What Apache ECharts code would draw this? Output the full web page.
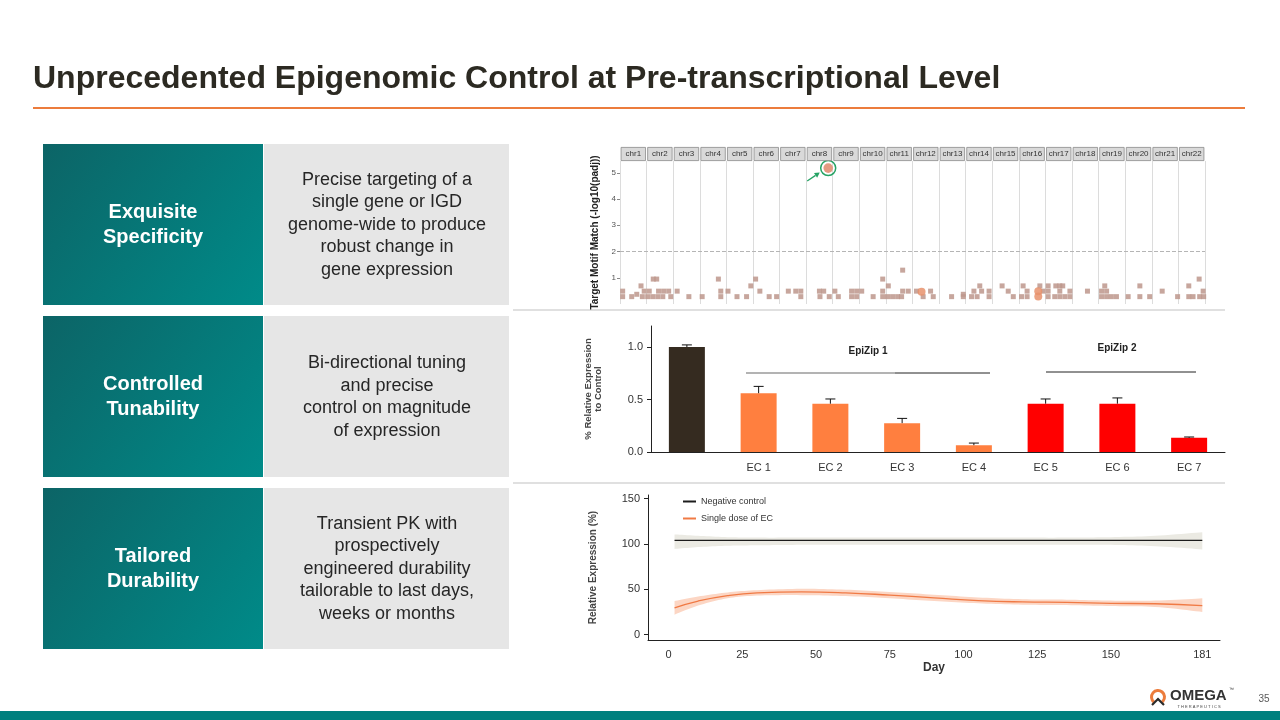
<!DOCTYPE html>
<html><head><meta charset="utf-8">
<script src="https://cdn.jsdelivr.net/npm/echarts@6/dist/echarts.min.js"></script>
<style>html,body{margin:0;padding:0;background:#fff}#c{width:1280px;height:720px}</style>
</head><body><div id="c"></div><script>
// ---------------- data ----------------
const slideTitle = 'Unprecedented Epigenomic Control at Pre-transcriptional Level';
const panelHeadings = ['Exquisite\nSpecificity', 'Controlled\nTunability', 'Tailored\nDurability'];
const panelTexts = [
  'Precise targeting of a\nsingle gene or IGD\ngenome-wide to produce\nrobust change in\ngene expression',
  'Bi-directional tuning\nand precise\ncontrol on magnitude\nof expression',
  'Transient PK with\nprospectively\nengineered durability\ntailorable to last days,\nweeks or months'
];
const chromosomes = ['chr1','chr2','chr3','chr4','chr5','chr6','chr7','chr8','chr9','chr10','chr11',
  'chr12','chr13','chr14','chr15','chr16','chr17','chr18','chr19','chr20','chr21','chr22'];
// [chromosome number, relative position within chromosome, -log10(padj)]
const motifPoints = [
  [1,.10,.28],[1,.44,.28],[1,.84,.28],[1,.10,.49],[1,.91,.49],[1,.79,.69],[1,.63,.37],
  [2,.04,.28],[2,.23,.28],[2,.42,.28],[2,.61,.28],[2,.91,.28],[2,.10,.49],[2,.45,.49],[2,.64,.49],[2,.83,.49],[2,.25,.95],[2,.38,.95],
  [3,.15,.49],[3,.59,.28],
  [4,.09,.28],[4,.79,.28],[4,.79,.49],[4,.70,.95],
  [5,.06,.49],[5,.40,.28],[5,.76,.28],[5,.92,.69],
  [6,.10,.95],[6,.26,.49],[6,.61,.28],[6,.89,.28],
  [7,.33,.49],[7,.61,.49],[7,.80,.49],[7,.80,.28],
  [8,.50,.49],[8,.66,.49],[8,.52,.28],[8,.87,.28],
  [9,.08,.49],[9,.21,.28],[9,.71,.28],[9,.90,.28],[9,.71,.49],[9,.90,.49],
  [10,.09,.49],[10,.52,.28],[10,.88,.28],[10,.88,.49],[10,.88,.95],
  [11,.09,.69],[11,.06,.28],[11,.25,.28],[11,.44,.28],[11,.59,.28],[11,.63,.49],[11,.84,.49],[11,.63,1.29],
  [12,.15,.49],[12,.40,.28],[12,.68,.49],[12,.78,.28],
  [13,.47,.28],[13,.91,.28],[13,.91,.37],
  [14,.22,.28],[14,.31,.49],[14,.43,.28],[14,.53,.69],[14,.60,.49],[14,.88,.49],[14,.88,.28],
  [15,.37,.69],[15,.60,.49],[15,.79,.28],
  [16,.10,.28],[16,.16,.69],[16,.31,.49],[16,.31,.28],[16,.79,.69],[16,.91,.49],
  [17,.10,.69],[17,.10,.49],[17,.10,.28],[17,.39,.69],[17,.54,.69],[17,.65,.69],[17,.54,.49],[17,.92,.49],
  [17,.35,.28],[17,.54,.28],[17,.73,.28],[17,.92,.28],
  [18,.58,.49],
  [19,.23,.69],[19,.11,.49],[19,.30,.49],[19,.11,.28],[19,.30,.28],[19,.48,.28],[19,.67,.28],
  [20,.11,.28],[20,.55,.69],[20,.55,.28],[20,.92,.28],
  [21,.39,.49],[21,.97,.28],
  [22,.78,.95],[22,.39,.69],[22,.93,.49],[22,.39,.28],[22,.55,.28],[22,.80,.28],[22,.95,.28]
];
const motifCircles = [[12,.34,.47],[16,.73,.49],[16,.73,.29]];
const targetHit = [8, .83, 5.18];
const significanceThreshold = 2;
const motifTicks = [1,2,3,4,5];

const barCategories = ['', 'EC 1', 'EC 2', 'EC 3', 'EC 4', 'EC 5', 'EC 6', 'EC 7'];
const barGroups = ['Control','EpiZip 1','EpiZip 1','EpiZip 1','EpiZip 1','EpiZip 2','EpiZip 2','EpiZip 2'];
const barValues = [1.00, 0.56, 0.46, 0.275, 0.065, 0.46, 0.46, 0.135];
const barErrors = [0.02, 0.065, 0.045, 0.045, 0.02, 0.045, 0.055, 0.008];
const barTicks = [0, 0.5, 1.0];

const days = [2, 10, 20, 30, 45, 60, 75, 90, 105, 120, 135, 150, 165, 181];
const ncMean  = [104, 104, 104, 104, 104, 104, 104, 104, 104, 104, 104, 104, 104, 104];
const ncLower = [94.5, 96.5, 98, 98.5, 99, 99, 99, 99, 99, 99, 99, 99, 97.5, 94];
const ncUpper = [110.5, 109, 107.5, 107, 107, 107, 107, 107, 107, 107, 107, 107.5, 109, 113];
const ecMean  = [29.5, 37, 43, 46, 47, 46, 43.5, 40.5, 37.5, 36, 35.5, 34.5, 34, 32];
const ecLower = [22, 32, 40, 43, 43.5, 42.5, 40, 37, 34.5, 33, 32.5, 31.5, 30.5, 25];
const ecUpper = [37, 42, 46.5, 49, 50.5, 49.5, 47, 44, 41, 39, 38.5, 37.5, 37.5, 40];
const dayTicks = [0, 25, 50, 75, 100, 125, 150, 181];
const expressionTicks = [0, 50, 100, 150];

// ---------------- styles ----------------
const FONT = '"Liberation Sans", Arial, sans-serif';
const groupColors = {'Control': '#352b20', 'EpiZip 1': '#ff7f3f', 'EpiZip 2': '#ff0000'};
const TEAL_GRAD = () => new echarts.graphic.LinearGradient(0, 0, 1, 1, [
  {offset: 0, color: '#0c6466'}, {offset: 1, color: '#008b89'}]);

const chart = echarts.init(document.getElementById('c'), null, {width: 1280, height: 720});

// ---------------- slide decoration ----------------
const graphics = [];
graphics.push({type: 'text', x: 33, y: 79, style: {text: slideTitle, font: 'bold 32px ' + FONT, fill: '#2c2a22', align: 'left', verticalAlign: 'middle'}});
graphics.push({type: 'rect', shape: {x: 33, y: 107, width: 1212, height: 2}, style: {fill: '#ec7c3c'}});
const rowTops = [144, 316, 488];
rowTops.forEach((t, i) => {
  graphics.push({type: 'rect', shape: {x: 43, y: t, width: 220, height: 161}, style: {fill: TEAL_GRAD()}});
  graphics.push({type: 'rect', shape: {x: 264, y: t, width: 245, height: 161}, style: {fill: '#e6e6e6'}});
  graphics.push({type: 'text', x: 153, y: t + 81, style: {text: panelHeadings[i], font: 'bold 20px ' + FONT, fill: '#ffffff', align: 'center', verticalAlign: 'middle', lineHeight: 25}});
  graphics.push({type: 'text', x: 387, y: t + 81, style: {text: panelTexts[i], font: '18px ' + FONT, fill: '#262626', align: 'center', verticalAlign: 'middle', lineHeight: 22.5}});
});
graphics.push({type: 'line', shape: {x1: 513, y1: 310, x2: 1225, y2: 310}, style: {stroke: '#d6d6d6', lineWidth: 1.5}});
graphics.push({type: 'line', shape: {x1: 513, y1: 483, x2: 1225, y2: 483}, style: {stroke: '#d6d6d6', lineWidth: 1.5}});
// EpiZip annotations
graphics.push({type: 'line', shape: {x1: 746, y1: 373, x2: 895, y2: 373}, style: {stroke: '#9a9a9a', lineWidth: 1.5}});
graphics.push({type: 'line', shape: {x1: 895, y1: 373, x2: 990, y2: 373}, style: {stroke: '#222', lineWidth: 1}});
graphics.push({type: 'text', x: 868, y: 351, style: {text: 'EpiZip 1', font: 'bold 10px ' + FONT, fill: '#222', align: 'center', verticalAlign: 'middle'}});
graphics.push({type: 'line', shape: {x1: 1046, y1: 372, x2: 1196, y2: 372}, style: {stroke: '#222', lineWidth: 1}});
graphics.push({type: 'text', x: 1117, y: 348, style: {text: 'EpiZip 2', font: 'bold 10px ' + FONT, fill: '#222', align: 'center', verticalAlign: 'middle'}});
// footer
graphics.push({type: 'rect', shape: {x: 0, y: 711, width: 1280, height: 9}, style: {fill: '#00807e'}});
graphics.push({type: 'arc', shape: {cx: 1158, cy: 697, r: 6.5, startAngle: Math.PI * 0.72, endAngle: Math.PI * 2.28, clockwise: true}, style: {stroke: '#ec7c3c', lineWidth: 3, fill: null}});
graphics.push({type: 'polyline', shape: {points: [[1152, 705], [1158, 699], [1164, 705]]}, style: {stroke: '#2b2b2b', lineWidth: 2.2, fill: null}});
graphics.push({type: 'text', x: 1170, y: 696, style: {text: 'OMEGA', font: 'bold 15px ' + FONT, fill: '#333333', align: 'left', verticalAlign: 'middle'}});
graphics.push({type: 'text', x: 1229, y: 690, style: {text: '™', font: '5px ' + FONT, fill: '#333', align: 'left', verticalAlign: 'middle'}});
graphics.push({type: 'text', x: 1199, y: 706.5, style: {text: 'T H E R A P E U T I C S', font: '4px ' + FONT, fill: '#444', align: 'center', verticalAlign: 'middle'}});
graphics.push({type: 'text', x: 1264, y: 699, style: {text: '35', font: '10px ' + FONT, fill: '#595959', align: 'center', verticalAlign: 'middle'}});

// Catmull-Rom smoothing of pixel points (rendering only)
function smoothPixels(pts, steps) {
  const out = [];
  for (let i = 0; i < pts.length - 1; i++) {
    const p0 = pts[Math.max(i - 1, 0)], p1 = pts[i], p2 = pts[i + 1], p3 = pts[Math.min(i + 2, pts.length - 1)];
    for (let s = 0; s < steps; s++) {
      const t = s / steps, t2 = t * t, t3 = t2 * t;
      out.push([0, 1].map(k => 0.5 * ((2 * p1[k]) + (-p0[k] + p2[k]) * t +
        (2 * p0[k] - 5 * p1[k] + 4 * p2[k] - p3[k]) * t2 + (-p0[k] + 3 * p1[k] - 3 * p2[k] + p3[k]) * t3)));
    }
  }
  out.push(pts[pts.length - 1]);
  return out;
}
// confidence band drawn through the axis scale (one polygon per band)
function bandSeries(lower, upper, color) {
  return {
    type: 'custom', xAxisIndex: 3, yAxisIndex: 3, silent: true, z: 2,
    data: days.map((d, i) => [d, lower[i], upper[i]]),
    encode: {x: 0, y: [1, 2]},
    renderItem: (params, api) => {
      if (params.dataIndex !== 0) return null;
      const top = smoothPixels(days.map((d, i) => api.coord([d, upper[i]])), 10);
      const bot = smoothPixels(days.map((d, i) => api.coord([d, lower[i]])), 10).reverse();
      return {type: 'polygon', shape: {points: top.concat(bot)}, style: {fill: color}};
    }
  };
}

// ---------------- chart option ----------------
const axisText = {fontFamily: FONT, color: '#333', fontSize: 11};
const option = {
  animation: false,
  backgroundColor: '#ffffff',
  textStyle: {fontFamily: FONT},
  grid: [
    {left: 620, top: 147, width: 585, height: 14, outerBoundsMode: 'none'},
    {left: 620, top: 161, width: 585, height: 143, outerBoundsMode: 'none'},
    {left: 651, top: 326, width: 574, height: 126, outerBoundsMode: 'none'},
    {left: 648, top: 495, width: 572, height: 145, outerBoundsMode: 'none'}
  ],
  legend: {
    data: ['Negative control', 'Single dose of EC'],
    orient: 'vertical', left: 678, top: 492, itemWidth: 13, itemHeight: 2, itemGap: 8,
    icon: 'rect', textStyle: {fontSize: 9, color: '#333', fontFamily: FONT}, selectedMode: false
  },
  xAxis: [
    {gridIndex: 0, type: 'category', data: chromosomes, show: false},
    {gridIndex: 1, type: 'value', min: 0, max: 22, interval: 1,
      axisLine: {show: false}, axisTick: {show: false}, axisLabel: {show: false},
      splitLine: {show: true, lineStyle: {color: '#dcdcdc', width: 1}}},
    {gridIndex: 2, type: 'category', data: barCategories,
      axisLine: {onZero: false, lineStyle: {color: '#222', width: 1}}, axisTick: {show: false},
      axisLabel: Object.assign({margin: 10}, axisText)},
    {gridIndex: 3, type: 'value', min: -7, max: 187,
      name: 'Day', nameLocation: 'middle', nameGap: 22,
      nameTextStyle: {fontWeight: 'bold', fontSize: 12, color: '#333', fontFamily: FONT},
      axisLine: {onZero: false, lineStyle: {color: '#222', width: 1}}, axisTick: {show: false},
      axisLabel: Object.assign({customValues: dayTicks, margin: 9}, axisText),
      splitLine: {show: false}}
  ],
  yAxis: [
    {gridIndex: 0, type: 'value', min: 0, max: 1, show: false},
    {gridIndex: 1, type: 'value', min: 0, max: 5.45,
      name: 'Target Motif Match (-log10(padj))', nameLocation: 'middle', nameGap: 20,
      nameTextStyle: {fontWeight: 'bold', fontSize: 10, color: '#222', fontFamily: FONT},
      axisLine: {show: false},
      axisTick: {show: true, customValues: motifTicks, length: 3, lineStyle: {color: '#888'}},
      axisLabel: {customValues: motifTicks, fontSize: 8, color: '#555', margin: 4, fontFamily: FONT},
      splitLine: {show: false}},
    {gridIndex: 2, type: 'value', min: 0, max: 1.2,
      name: '% Relative Expression\nto Control', nameLocation: 'middle', nameGap: 48,
      nameTextStyle: {fontWeight: 'bold', fontSize: 9.5, color: '#444', fontFamily: FONT, lineHeight: 10},
      axisLine: {show: true, onZero: false, lineStyle: {color: '#222', width: 1}},
      axisTick: {show: true, customValues: barTicks, length: 4, lineStyle: {color: '#222'}},
      axisLabel: Object.assign({customValues: barTicks, margin: 8, formatter: v => v.toFixed(1)}, axisText),
      splitLine: {show: false}},
    {gridIndex: 3, type: 'value', min: -6, max: 154,
      name: 'Relative Expression (%)', nameLocation: 'middle', nameGap: 50,
      nameTextStyle: {fontWeight: 'bold', fontSize: 10, color: '#444', fontFamily: FONT},
      axisLine: {show: true, onZero: false, lineStyle: {color: '#222', width: 1}},
      axisTick: {show: true, customValues: expressionTicks, length: 4, lineStyle: {color: '#222'}},
      axisLabel: Object.assign({customValues: expressionTicks, margin: 8}, axisText),
      splitLine: {show: false}}
  ],
  series: [
    // chromosome strip
    {type: 'bar', xAxisIndex: 0, yAxisIndex: 0, barCategoryGap: '5%', silent: true,
      data: chromosomes.map(name => ({name, value: 1})),
      itemStyle: {color: '#d9d9d9', borderColor: '#8a8a8a', borderWidth: 0.8},
      label: {show: true, position: 'inside', formatter: '{b}', fontSize: 8, color: '#333', fontFamily: FONT}},
    // motif matches
    {type: 'scatter', xAxisIndex: 1, yAxisIndex: 1, symbol: 'rect', symbolSize: 5, silent: true,
      data: motifPoints.map(([c, p, v]) => [c - 1 + p, v]),
      itemStyle: {color: '#bd968c', opacity: 0.85},
      markLine: {silent: true, symbol: 'none', label: {show: false},
        lineStyle: {type: 'dashed', color: '#b5b5b5', width: 1},
        data: [{yAxis: significanceThreshold}]}},
    {type: 'scatter', xAxisIndex: 1, yAxisIndex: 1, symbol: 'circle', symbolSize: 8, silent: true,
      data: motifCircles.map(([c, p, v]) => [c - 1 + p, v]),
      itemStyle: {color: '#e8926c', opacity: 0.85}},
    {type: 'custom', xAxisIndex: 1, yAxisIndex: 1, silent: true,
      data: [[targetHit[0] - 1 + targetHit[1], targetHit[2]]],
      renderItem: (params, api) => {
        const p = api.coord([api.value(0), api.value(1)]);
        const cx = p[0], cy = p[1];
        const sx = cx - 21, sy = cy + 13, ex = cx - 8.5, ey = cy + 4.5;
        const dx = ex - sx, dy = ey - sy, L = Math.hypot(dx, dy), ux = dx / L, uy = dy / L;
        const bx = ex - ux * 5, by = ey - uy * 5;
        return {type: 'group', children: [
          {type: 'circle', shape: {cx, cy, r: 4.8}, style: {fill: '#e49a82'}},
          {type: 'circle', shape: {cx, cy, r: 7.5}, style: {fill: null, stroke: '#26a365', lineWidth: 1.5}},
          {type: 'line', shape: {x1: sx, y1: sy, x2: bx, y2: by}, style: {stroke: '#26a365', lineWidth: 1.3}},
          {type: 'polygon', shape: {points: [[ex, ey], [bx - uy * 2.8, by + ux * 2.8], [bx + uy * 2.8, by - ux * 2.8]]}, style: {fill: '#26a365'}}
        ]};
      }},
    // bar chart
    {type: 'bar', xAxisIndex: 2, yAxisIndex: 2, barWidth: 36, silent: true,
      data: barValues.map((v, i) => ({value: v, itemStyle: {color: groupColors[barGroups[i]]}}))},
    {type: 'custom', xAxisIndex: 2, yAxisIndex: 2, silent: true, z: 5,
      data: barValues.map((v, i) => [i, v, barErrors[i]]),
      encode: {x: 0, y: 1},
      renderItem: (params, api) => {
        const i = api.value(0), v = api.value(1), e = api.value(2);
        const b = api.coord([i, v]), t = api.coord([i, v + e]);
        return {type: 'group', children: [
          {type: 'line', shape: {x1: b[0], y1: b[1], x2: t[0], y2: t[1]}, style: {stroke: '#111', lineWidth: 1}},
          {type: 'line', shape: {x1: t[0] - 5, y1: t[1], x2: t[0] + 5, y2: t[1]}, style: {stroke: '#111', lineWidth: 1}}
        ]};
      }},
    // expression over time: confidence bands and fitted lines
    bandSeries(ncLower, ncUpper, '#ebeae3'),
    bandSeries(ecLower, ecUpper, '#fcd6c4'),
    {name: 'Negative control', type: 'line', xAxisIndex: 3, yAxisIndex: 3, smooth: true, symbol: 'none', silent: true,
      data: days.map((d, i) => [d, ncMean[i]]), itemStyle: {color: '#1c1c1c'},
      lineStyle: {color: '#1c1c1c', width: 1.3}, z: 4},
    {name: 'Single dose of EC', type: 'line', xAxisIndex: 3, yAxisIndex: 3, smooth: true, symbol: 'none', silent: true,
      data: days.map((d, i) => [d, ecMean[i]]), itemStyle: {color: '#f07a45'},
      lineStyle: {color: '#f07a45', width: 1.3}, z: 4}
  ],
  graphic: {elements: graphics}
};
chart.setOption(option);
</script></body></html>
